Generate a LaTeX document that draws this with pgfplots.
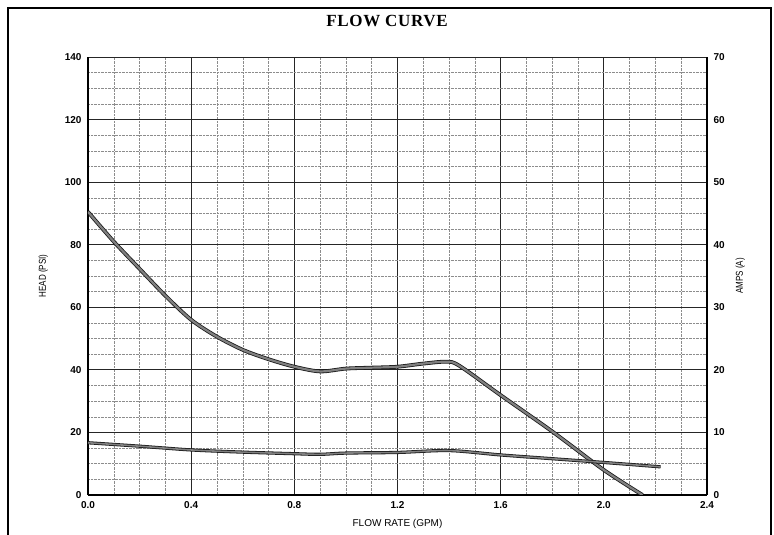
\documentclass[border=0pt]{standalone}
\usepackage{pgfplots}
\pgfplotsset{compat=1.18}
\usepackage{fontspec}
\setmainfont{Liberation Sans}
\newfontfamily\seriffont[LetterSpace=4]{Liberation Serif}
\begin{document}
\begin{tikzpicture}[x=1pt,y=1pt]
\useasboundingbox (-88,-40) rectangle (686,495);
\draw[line width=1.2pt] (-80,-60) -- (-80,487) -- (683,487) -- (683,-60);
\node[font=\seriffont\bfseries\fontsize{17}{17}\selectfont] at (299,474) {FLOW CURVE};
\begin{axis}[
  scale only axis, width=619pt, height=438pt,
  xmin=0, xmax=2.4, ymin=0, ymax=140,
  xtick={0,0.4,...,2.4},
  xticklabels={0.0,0.4,0.8,1.2,1.6,2.0,2.4},
  ytick={0,20,...,140},
  minor xtick={0.1,0.2,0.3,0.5,0.6,0.7,0.9,1.0,1.1,1.3,1.4,1.5,1.7,1.8,1.9,2.1,2.2,2.3},
  minor ytick={5,10,15,25,30,35,45,50,55,65,70,75,85,90,95,105,110,115,125,130,135},
  grid=both,
  major grid style={black!85, line width=0.8pt},
  minor grid style={black!45, densely dotted, line width=0.5pt},
  axis line style={black, line width=1.2pt},
  tick style={draw=none},
  axis y line*=left, axis x line*=bottom,
  ticklabel style={font=\bfseries\fontsize{10}{10}\selectfont},
  xticklabel style={yshift=-3pt},
  yticklabel style={xshift=-3pt},
  /pgf/number format/assume math mode=true,
  xlabel={FLOW RATE (GPM)}, ylabel={HEAD (PSI)},
  xlabel style={font=\fontsize{10}{10}\selectfont, yshift=-4pt},
  ylabel style={font=\fontsize{10}{10}\selectfont, xscale=0.8, yshift=10pt},
]
\addplot[draw=black!90, line width=0.8pt, double=black!50, double distance=2.2pt, smooth, tension=0.5] coordinates {
 (0,90.5) (0.1,81) (0.2,72.3) (0.3,63.7) (0.4,56) (0.5,50.6) (0.6,46.4) (0.7,43.4) (0.8,41) (0.9,39.5) (1.0,40.4) (1.1,40.7) (1.2,41) (1.3,42) (1.39,42.6) (1.44,41.3) (1.6,31.9) (1.8,20.3) (2.0,8) (2.15,0)
};
\end{axis}
\begin{axis}[
  scale only axis, width=619pt, height=438pt,
  xmin=0, xmax=2.4, ymin=0, ymax=70,
  axis y line*=right, axis x line=none,
  ytick={0,10,...,70},
  tick style={draw=none},
  axis line style={black, line width=1.2pt},
  ticklabel style={font=\bfseries\fontsize{10}{10}\selectfont},
  yticklabel style={xshift=3pt},
  /pgf/number format/assume math mode=true,
  ylabel={AMPS (A)},
  ylabel style={font=\fontsize{10}{10}\selectfont, xscale=0.8, yshift=-4pt},
]
\addplot[draw=black!90, line width=0.8pt, double=black!50, double distance=1.6pt, smooth, tension=0.5] coordinates {
 (0,8.35) (0.2,7.8) (0.4,7.2) (0.6,6.85) (0.8,6.6) (0.9,6.5) (1.0,6.7) (1.2,6.8) (1.4,7.1) (1.6,6.4) (1.8,5.8) (2.0,5.2) (2.22,4.5)
};
\end{axis}
\end{tikzpicture}
\end{document}
